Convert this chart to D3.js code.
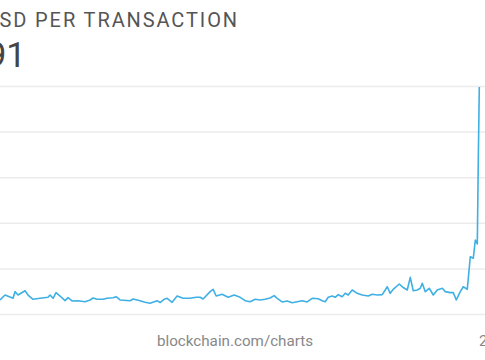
<!DOCTYPE html>
<html>
<head>
<meta charset="utf-8">
<script src="https://cdn.jsdelivr.net/npm/d3@7"></script>
<style>
  html, body { margin: 0; padding: 0; background: #fff; overflow: hidden; }
  svg { display: block; }
  text { font-family: Roboto, "Noto Sans", sans-serif; }
</style>
</head>
<body>
<svg id="chart" width="485" height="360"></svg>
<script>
// ---- data (day index, USD per transaction) ----
const days = [0,5,13,15,18,25,28,33,40,48,50,53,56,60,65,68,72,78,85,90,93,97,103,107,113,116,120,130,133,140,145,150,157,160,164,167,172,177,183,190,196,200,203,210,213,216,222,228,234,240,245,250,255,260,265,270,274,277,282,287,292,297,302,307,312,318,322,325,328,332,335,338,342,345,348,352,357,362,368,372,377,382,385,387,390,393,396,399,403,407,410,413,417,420,422,425,429,433,437,442,445,450,453,456,460,463,467,470,473,475,477,478,479];
const values = [15.4,20.8,17.2,24.5,20.8,25.5,20.8,16.1,17.2,18.3,20.8,17.2,23.4,19.7,14.6,17.9,14.3,14.6,13.5,15.4,17.5,16.1,16.1,17.2,17.9,19.0,15.4,14.6,16.4,14.6,12.8,11.7,14.6,12.6,16.1,17.2,12.8,19.7,17.2,17.2,18.3,18.3,16.4,24.5,27.1,19.7,21.6,18.3,20.8,18.3,14.6,13.5,16.1,15.4,16.1,17.5,20.1,17.2,13.2,14.3,12.4,13.5,14.6,13.2,17.2,16.8,14.6,13.5,18.3,19.7,18.3,21.2,19.0,22.7,20.8,26.3,22.7,20.8,19.7,21.6,20.8,21.2,26.3,29.9,22.7,27.1,29.9,32.9,29.0,26.3,40.2,25.5,26.3,28.2,33.7,24.5,28.2,20.8,26.3,28.2,24.5,23.4,23.4,15.4,24.5,29.9,27.1,62.8,61.1,81.1,76.8,168.9,248.91];
const yTicks = [0, 50, 100, 150, 200, 250];
const titleText = "USD PER TRANSACTION";
const bigNumber = "248.91";
const sourceText = "blockchain.com/charts";
const xLabel = "2021";

const svg = d3.select("#chart");
const W = 485, H = 360;
svg.append("rect").attr("width", W).attr("height", H).attr("fill", "#fff");

const x = d3.scaleLinear().domain([0, 479]).range([0, 479.3]);
const y = d3.scaleLinear().domain([0, 250]).range([314, 86]);

// gridlines via axis
const grid = svg.append("g")
  .call(d3.axisLeft(y).tickValues(yTicks).tickSize(-W).tickFormat(""));
grid.select(".domain").remove();
grid.selectAll(".tick line").attr("stroke", "#ebebeb").attr("stroke-width", 1.5);

// line
const data = days.map((d, i) => ({ d, v: values[i] }));
svg.append("path")
  .datum(data)
  .attr("fill", "none")
  .attr("stroke", "#3fb0e3")
  .attr("stroke-width", 1.6)
  .attr("stroke-linejoin", "round")
  .attr("d", d3.line().x(p => x(p.d)).y(p => y(p.v)));

// title
svg.append("text")
  .attr("x", 239).attr("y", 27)
  .attr("text-anchor", "end")
  .attr("font-size", 20)
  .attr("letter-spacing", "1.9px")
  .attr("fill", "#555")
  .text(titleText);

svg.append("text")
  .attr("x", 26).attr("y", 67)
  .attr("text-anchor", "end")
  .attr("font-size", 35)
  .attr("fill", "#444")
  .text(bigNumber);

svg.append("text")
  .attr("x", 235).attr("y", 346)
  .attr("text-anchor", "middle")
  .attr("font-size", 15.2)
  .attr("fill", "#888")
  .text(sourceText);

svg.append("text")
  .attr("x", 479).attr("y", 346)
  .attr("text-anchor", "start")
  .attr("font-size", 15.2)
  .attr("fill", "#888")
  .text(xLabel);
</script>
</body>
</html>
